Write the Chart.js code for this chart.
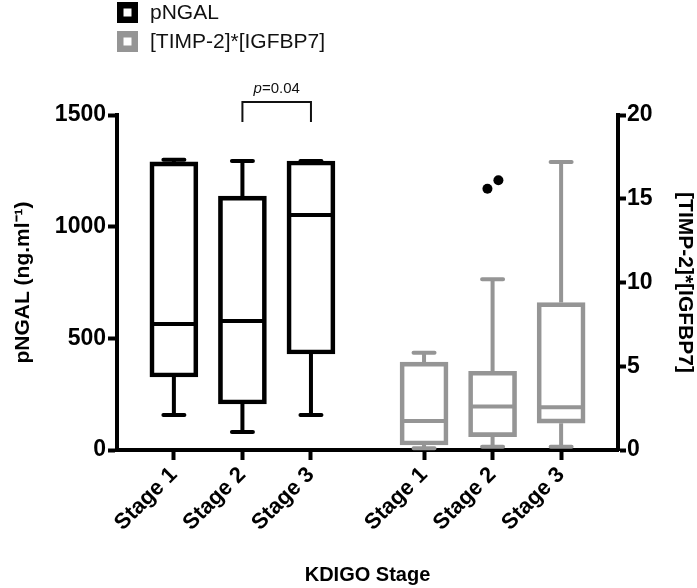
<!DOCTYPE html>
<html>
<head>
<meta charset="utf-8">
<script src="https://cdn.jsdelivr.net/npm/chart.js@4/dist/chart.umd.min.js"></script>
<style>
  html, body { margin: 0; padding: 0; background: #ffffff; }
  #wrap { width: 697px; height: 588px; }
</style>
</head>
<body>
<div id="wrap"><canvas id="c" width="697" height="588"></canvas></div>
<script>
// ---------------- data ----------------
const categories = ['Stage 1', 'Stage 2', 'Stage 3'];
const seriesNames = ['pNGAL', '[TIMP-2]*[IGFBP7]'];

const pngalMin    = [157, 81, 157];
const pngalQ1     = [327, 206, 430];
const pngalMedian = [564, 578, 1052];
const pngalQ3     = [1290, 1137, 1294];
const pngalMax    = [1300, 1294, 1294];

const timpMin     = [0.1, 0.2, 0.2];
const timpQ1      = [0.3, 0.8, 1.6];
const timpMedian  = [1.73, 2.6, 2.55];
const timpQ3      = [5.25, 4.7, 8.8];
const timpMax     = [5.8, 10.2, 17.2];
const timpOutliers = [[], [15.6, 16.1], []];

const leftTicks  = [0, 500, 1000, 1500];
const rightTicks = [0, 5, 10, 15, 20];
const pValueText = '=0.04';

// ---------------- layout / style ----------------
const FONT = '"Liberation Sans", Arial, Helvetica, sans-serif';
const BLACK = '#000000';
const GREY = '#959595';
const groupStart = [1, 4.65];
const posL = categories.map((_, i) => groupStart[0] + i);
const posR = categories.map((_, i) => groupStart[1] + i);
const allPos = posL.concat(posR);
const allLabels = categories.concat(categories);
const outlierJitter = [-0.075, 0.085];

const groups = [
  { axis: 'y',  color: BLACK, pos: posL, min: pngalMin, q1: pngalQ1, med: pngalMedian, q3: pngalQ3, max: pngalMax },
  { axis: 'y2', color: GREY,  pos: posR, min: timpMin,  q1: timpQ1,  med: timpMedian,  q3: timpQ3,  max: timpMax }
];

const outlierPoints = [];
timpOutliers.forEach((arr, i) => arr.forEach((v, k) => outlierPoints.push({ x: posR[i] + outlierJitter[k % 2], y: v })));

// ---------------- plugins ----------------
const boxPlugin = {
  id: 'boxWhiskers',
  afterDatasetsDraw(chart) {
    const ctx = chart.ctx;
    const xs = chart.scales.x;
    ctx.save();
    groups.forEach(g => {
      const ys = chart.scales[g.axis];
      ctx.strokeStyle = g.color;
      ctx.lineWidth = 4;
      g.pos.forEach((p, i) => {
        const cx = xs.getPixelForValue(p);
        const yMin = ys.getPixelForValue(g.min[i]);
        const yQ1 = ys.getPixelForValue(g.q1[i]);
        const yMed = ys.getPixelForValue(g.med[i]);
        const yQ3 = ys.getPixelForValue(g.q3[i]);
        const yMax = ys.getPixelForValue(g.max[i]);
        ctx.lineCap = 'butt';
        ctx.beginPath();
        ctx.moveTo(cx, yQ3); ctx.lineTo(cx, yMax);
        ctx.moveTo(cx, yQ1); ctx.lineTo(cx, yMin);
        ctx.moveTo(cx - 22, yMed); ctx.lineTo(cx + 22, yMed);
        ctx.stroke();
        ctx.lineCap = 'round';
        ctx.beginPath();
        ctx.moveTo(cx - 10.5, yMax); ctx.lineTo(cx + 10.5, yMax);
        ctx.moveTo(cx - 10.5, yMin); ctx.lineTo(cx + 10.5, yMin);
        ctx.stroke();
      });
    });
    ctx.restore();
  }
};

const annotationPlugin = {
  id: 'annotations',
  afterDraw(chart) {
    const ctx = chart.ctx;
    const xs = chart.scales.x;
    const top = chart.chartArea.top;
    ctx.save();
    // significance bracket between pNGAL Stage 2 and Stage 3
    const x1 = xs.getPixelForValue(posL[1]);
    const x2 = xs.getPixelForValue(posL[2]);
    ctx.strokeStyle = '#111';
    ctx.lineWidth = 2;
    ctx.beginPath();
    ctx.moveTo(x1, top + 7);
    ctx.lineTo(x1, top - 13);
    ctx.lineTo(x2, top - 13);
    ctx.lineTo(x2, top + 7);
    ctx.stroke();
    ctx.fillStyle = '#111';
    ctx.textBaseline = 'alphabetic';
    ctx.font = 'italic 15px ' + FONT;
    const wP = ctx.measureText('p').width;
    ctx.font = '15px ' + FONT;
    const wR = ctx.measureText(pValueText).width;
    const sx = (x1 + x2) / 2 - (wP + wR) / 2;
    ctx.textAlign = 'left';
    ctx.font = 'italic 15px ' + FONT;
    ctx.fillText('p', sx, top - 22);
    ctx.font = '15px ' + FONT;
    ctx.fillText(pValueText, sx + wP, top - 22);

    // legend
    const items = [{ c: BLACK, t: seriesNames[0], y: 2 }, { c: GREY, t: seriesNames[1], y: 31 }];
    items.forEach(it => {
      ctx.strokeStyle = it.c;
      ctx.lineWidth = 6.5;
      ctx.lineCap = 'butt';
      ctx.strokeRect(120.25, it.y + 3.25, 14.5, 14.5);
      ctx.fillStyle = '#111';
      ctx.font = '21px ' + FONT;
      ctx.textBaseline = 'middle';
      ctx.textAlign = 'left';
      ctx.fillText(it.t, 150, it.y + 11);
    });
    ctx.restore();
  }
};

// ---------------- chart ----------------
const tickFont = { family: FONT, size: 23, weight: 'bold' };
const titleFont = { family: FONT, size: 21, weight: 'bold' };

new Chart(document.getElementById('c'), {
  type: 'bar',
  data: {
    datasets: [
      {
        label: seriesNames[0],
        yAxisID: 'y',
        data: posL.map((p, i) => ({ x: p, y: [pngalQ1[i], pngalQ3[i]] })),
        backgroundColor: 'rgba(255,255,255,0)',
        borderColor: BLACK,
        borderWidth: 4,
        borderSkipped: false,
        barThickness: 48,
        grouped: false
      },
      {
        label: seriesNames[1],
        yAxisID: 'y2',
        data: posR.map((p, i) => ({ x: p, y: [timpQ1[i], timpQ3[i]] })),
        backgroundColor: 'rgba(255,255,255,0)',
        borderColor: GREY,
        borderWidth: 4,
        borderSkipped: false,
        barThickness: 48,
        grouped: false
      },
      {
        type: 'scatter',
        label: 'outliers',
        yAxisID: 'y2',
        data: outlierPoints,
        pointRadius: 5,
        pointBackgroundColor: BLACK,
        pointBorderColor: BLACK,
        pointBorderWidth: 0
      }
    ]
  },
  options: {
    responsive: false,
    devicePixelRatio: 1,
    animation: false,
    layout: { padding: { top: 115, left: 0, right: 0, bottom: 0 } },
    plugins: { legend: { display: false }, tooltip: { enabled: false } },
    scales: {
      x: {
        type: 'linear',
        min: 0.17,
        max: 7.48,
        offset: false,
        afterBuildTicks: s => { s.ticks = allPos.map(v => ({ value: v })); },
        afterFit: s => { s.height = 138; },
        ticks: {
          autoSkip: false,
          minRotation: 45,
          maxRotation: 45,
          color: BLACK,
          font: { family: FONT, size: 22, weight: 'bold' },
          padding: 2,
          callback: (v, i) => allLabels[i]
        },
        grid: { display: true, offset: false, drawOnChartArea: false, drawTicks: true, tickLength: 10, tickWidth: 4, tickColor: BLACK },
        border: { display: true, width: 4, color: BLACK },
        title: { display: true, text: 'KDIGO Stage', color: BLACK, font: { family: FONT, size: 20, weight: 'bold' }, padding: { top: 0, bottom: 1 } }
      },
      y: {
        position: 'left',
        min: 0,
        max: 1500,
        afterBuildTicks: s => { s.ticks = leftTicks.map(v => ({ value: v })); },
        afterFit: s => { s.width = 117; },
        ticks: { color: BLACK, font: tickFont, padding: 2, callback: v => String(v) },
        grid: { display: true, drawOnChartArea: false, drawTicks: true, tickLength: 9, tickWidth: 4, tickColor: BLACK },
        border: { display: true, width: 4, color: BLACK },
        title: { display: true, text: 'pNGAL (ng.ml\u207B\u00B9)', color: BLACK, font: titleFont, padding: { top: 11, bottom: 0 } }
      },
      y2: {
        position: 'right',
        min: 0,
        max: 20,
        afterBuildTicks: s => { s.ticks = rightTicks.map(v => ({ value: v })); },
        afterFit: s => { s.width = 79; },
        ticks: { color: BLACK, font: tickFont, padding: 1, callback: v => String(v) },
        grid: { display: true, drawOnChartArea: false, drawTicks: true, tickLength: 8, tickWidth: 4, tickColor: BLACK },
        border: { display: true, width: 4, color: BLACK },
        title: { display: true, text: '[TIMP-2]*[IGFBP7]', color: BLACK, font: titleFont, padding: { top: 0, bottom: 0 } }
      }
    }
  },
  plugins: [boxPlugin, annotationPlugin]
});
</script>
</body>
</html>
